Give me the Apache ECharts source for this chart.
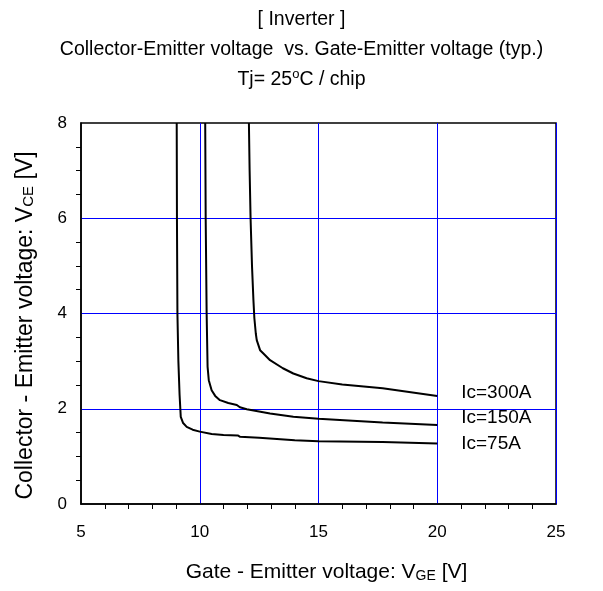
<!DOCTYPE html>
<html>
<head>
<meta charset="utf-8">
<script src="https://cdn.jsdelivr.net/npm/echarts@6/dist/echarts.min.js"></script>
<style>html,body{margin:0;padding:0;background:#fff}#c{width:603px;height:591px}</style>
</head>
<body>
<div id="c"></div>
<script>
// Data (VGE [V], VCE [V])
const ic75 = [[9.03,8.0],[9.04,6.0],[9.06,4.0],[9.10,3.0],[9.15,2.3],[9.20,1.83],[9.30,1.70],[9.45,1.62],[9.70,1.56],[10.0,1.52],[10.5,1.47],[11.0,1.45],[11.6,1.44],[11.7,1.41],[12.5,1.39],[14.0,1.34],[15.0,1.32],[17.7,1.30],[20.0,1.27]];
const ic150 = [[10.23,8.0],[10.25,6.0],[10.29,4.0],[10.33,2.88],[10.38,2.60],[10.50,2.39],[10.65,2.27],[10.85,2.18],[11.2,2.12],[11.56,2.08],[11.69,2.03],[11.98,1.99],[12.96,1.90],[13.94,1.83],[15.0,1.79],[17.7,1.71],[20.0,1.66]];
const ic300 = [[12.07,8.0],[12.10,7.0],[12.14,6.0],[12.20,5.0],[12.26,4.28],[12.30,3.90],[12.36,3.58],[12.40,3.44],[12.54,3.23],[12.68,3.16],[12.96,3.02],[13.5,2.85],[13.94,2.74],[14.5,2.64],[15.0,2.58],[16.0,2.51],[17.7,2.43],[20.0,2.27]];
const seriesNames = ['Ic=300A','Ic=150A','Ic=75A'];
const xTicks = [5,10,15,20,25];
const yTicks = [0,2,4,6,8];

const FONT = 'Liberation Sans, Arial, sans-serif';
const chart = echarts.init(document.getElementById('c'), null, {renderer:'canvas'});

function mk(name, data, dy){
  return {
    name, type:'line', data, showSymbol:false, symbol:'none',
    lineStyle:{color:'#000', width:2}, z:5,
    endLabel:{show:true, formatter:name, color:'#000', fontFamily:FONT, fontSize:19, distance:24, offset:[0,dy]}
  };
}

chart.setOption({
  animation:false,
  backgroundColor:'#fff',
  title:{
    left:'center', top:0,
    text:'[ Inverter ]\nCollector-Emitter voltage  vs. Gate-Emitter voltage (typ.)\nTj= 25{sup|o}C / chip',
    textStyle:{color:'#000', fontFamily:FONT, fontSize:19.5, fontWeight:'normal', lineHeight:30,
      rich:{sup:{fontSize:13, fontFamily:FONT, color:'#000', padding:[0,0,12,0], lineHeight:30}}}
  },
  grid:{left:81, right:47, top:123, bottom:87, show:true, borderColor:'#000', borderWidth:1.5, containLabel:false},
  xAxis:{
    type:'value', min:xTicks[0], max:xTicks[xTicks.length-1], interval:5,
    axisLine:{show:true, onZero:false, lineStyle:{color:'#000', width:1.5}},
    axisTick:{show:false},
    minorTick:{show:true, splitNumber:5, length:5, lineStyle:{color:'#000', width:1}},
    splitLine:{show:true, showMinLine:false, showMaxLine:true, lineStyle:{color:'#0000ff', width:1}},
    axisLabel:{color:'#000', fontFamily:FONT, fontSize:17, margin:20},
    name:'Gate - Emitter voltage: V{sub|GE} [V]', nameLocation:'middle', nameGap:58,
    nameTextStyle:{color:'#000', fontFamily:FONT, fontSize:21, padding:[0,0,0,16],
      rich:{sub:{fontSize:14, fontFamily:FONT, color:'#000', padding:[7,0,0,0]}}}
  },
  yAxis:{
    type:'value', min:yTicks[0], max:yTicks[yTicks.length-1], interval:2,
    axisLine:{show:true, lineStyle:{color:'#000', width:1.5}},
    axisTick:{show:false},
    minorTick:{show:true, splitNumber:4, length:5, lineStyle:{color:'#000', width:1}},
    splitLine:{show:true, showMinLine:false, showMaxLine:false, lineStyle:{color:'#0000ff', width:1}},
    axisLabel:{color:'#000', fontFamily:FONT, fontSize:17, margin:14},
    name:'Collector - Emitter voltage: V{sub|CE} [V]', nameLocation:'middle', nameGap:44,
    nameTextStyle:{color:'#000', fontFamily:FONT, fontSize:23, padding:[0,24,0,0],
      rich:{sub:{fontSize:15, fontFamily:FONT, color:'#000', padding:[7,0,0,0]}}}
  },
  series:[
    mk(seriesNames[0], ic300, -3),
    mk(seriesNames[1], ic150, -7),
    mk(seriesNames[2], ic75, 0)
  ]
});
</script>
</body>
</html>
